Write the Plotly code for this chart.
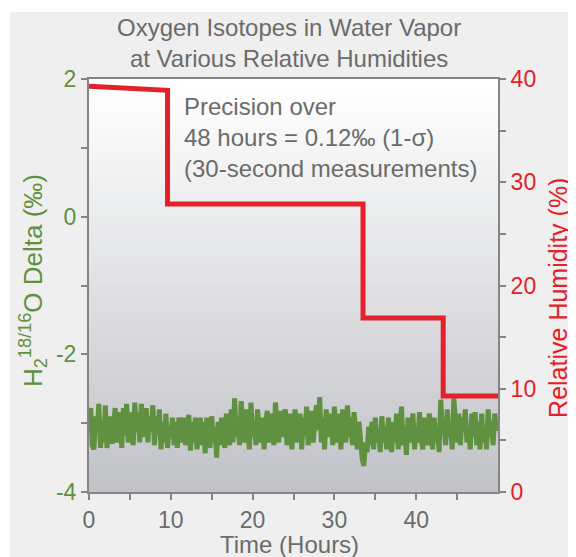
import plotly.graph_objects as go

# ---------------- data ----------------
# Oxygen isotope delta (per mil), 30-second measurements shown as samples every 0.2 h
delta_start_hour = 0.0
delta_step_hour = 0.2
delta_values = [
    -3.05, -2.78, -3.32, -3.38, -2.9, -3.12, -2.72, -3.36, -2.98, -3.28,
    -2.74, -3.36, -3.05, -2.9, -3.3, -2.98, -2.78, -3.28, -3.1, -2.84,
    -3.36, -2.78, -3.18, -2.72, -3.28, -2.98, -2.84, -3.32, -2.7, -3.12,
    -2.84, -3.28, -2.72, -3.05, -3.2, -2.78, -3.28, -2.9, -3.12, -2.74,
    -3.32, -2.9, -3.18, -2.8, -3.38, -2.98, -3.28, -2.86, -3.36, -3.05,
    -3.2, -2.92, -3.32, -2.98, -3.36, -2.92, -3.12, -3.28, -2.92, -3.32,
    -3.05, -2.88, -3.4, -2.98, -3.28, -2.92, -3.38, -3.05, -2.92, -3.32,
    -2.98, -3.44, -2.92, -3.18, -3.36, -2.9, -3.28, -3.05, -3.5, -2.98,
    -3.32, -2.92, -3.18, -3.36, -2.86, -3.1, -3.32, -2.8, -3.28, -2.64,
    -3.2, -2.98, -3.32, -2.68, -3.1, -3.28, -2.8, -3.05, -3.38, -2.7,
    -3.2, -2.98, -3.32, -2.8, -3.1, -3.28, -2.92, -3.38, -2.98, -2.82,
    -3.28, -3.05, -2.86, -3.32, -2.7, -3.1, -3.28, -2.82, -3.2, -2.98,
    -2.8, -3.32, -3.05, -2.86, -3.38, -2.98, -2.8, -3.28, -3.1, -2.86,
    -3.38, -2.92, -3.18, -2.76, -3.32, -2.98, -2.82, -3.28, -3.05, -2.74,
    -3.1, -2.62, -3.28, -2.92, -3.38, -2.8, -3.2, -3.05, -2.86, -3.32,
    -2.76, -3.1, -3.28, -2.86, -3.38, -2.8, -3.05, -3.28, -2.74, -3.2,
    -2.92, -3.32, -2.84, -3.1, -3.38, -2.98, -3.28, -3.52, -3.62, -3.28,
    -3.42, -3.05, -3.32, -2.98, -3.38, -2.92, -3.28, -3.1, -3.42, -2.9,
    -3.28, -3.05, -3.38, -2.92, -3.2, -3.42, -2.98, -3.28, -2.86, -3.38,
    -3.1, -2.76, -3.32, -3.05, -3.46, -2.92, -3.28, -3.1, -2.86, -3.38,
    -3.05, -3.28, -2.84, -3.2, -3.38, -2.92, -3.1, -3.32, -2.86, -3.2,
    -3.38, -2.92, -3.28, -3.05, -3.42, -2.66, -3.1, -2.98, -3.32, -2.8,
    -3.2, -2.98, -3.38, -2.64, -3.05, -3.28, -2.86, -3.32, -2.92, -3.1,
    -2.8, -3.28, -3.05, -3.38, -2.86, -3.2, -2.84, -3.32, -2.98, -3.38,
    -2.86, -3.28, -3.05, -3.38, -2.8, -3.2, -2.98, -3.32, -2.86, -3.1,
    -3.05,
]

# Relative humidity steps
rh_hours = [0, 9.6, 9.6, 33.5, 33.5, 43.3, 43.3, 50]
rh_values = [39.3, 38.9, 27.9, 27.9, 16.85, 16.85, 9.3, 9.3]

x_tick_vals = [0, 10, 20, 30, 40]
x_tick_text = ["0", "10", "20", "30", "40"]
y_tick_vals = [2, 0, -2, -4]
y_tick_text = ["2", "0", "-2", "-4"]
y2_tick_vals = [0, 10, 20, 30, 40]
y2_tick_text = ["0", "10", "20", "30", "40"]

# ---------------- style ----------------
FONT = "Liberation Sans, Arial, Helvetica, sans-serif"
GREEN = "#5f9140"
RED = "#e3212b"
GREY_TXT = "#6b6b6b"
AXIS = "#858585"

fig = go.Figure()

fig.add_trace(go.Scatter(
    x0=delta_start_hour, dx=delta_step_hour, y=delta_values,
    mode="lines", line=dict(color=GREEN, width=5),
    yaxis="y", showlegend=False, hoverinfo="skip",
))
fig.add_trace(go.Scatter(
    x=rh_hours, y=rh_values, mode="lines",
    line=dict(color=RED, width=5), yaxis="y2", showlegend=False,
    hoverinfo="skip",
))

# gradient background in plot area
shapes = []
n = 60
top = (255, 255, 255)
bot = (194, 195, 200)
for i in range(n):
    t = i / (n - 1)
    c = tuple(round(top[k] * t + bot[k] * (1 - t)) for k in range(3))
    shapes.append(dict(
        type="rect", xref="paper", yref="paper",
        x0=0, x1=1, y0=i / n, y1=(i + 1) / n + 0.002,
        fillcolor="rgb(%d,%d,%d)" % c, line=dict(width=0), layer="below",
    ))
# white strips at the top and left of the page
shapes.append(dict(type="rect", xref="paper", yref="paper",
                   x0=-0.3, x1=1.3, y0=1.1622, y1=1.25,
                   fillcolor="white", line=dict(width=0), layer="below"))
shapes.append(dict(type="rect", xref="paper", yref="paper",
                   x0=-0.3, x1=-0.1932, y0=-0.2, y1=1.25,
                   fillcolor="white", line=dict(width=0), layer="below"))

common_axis = dict(
    showgrid=False, zeroline=False, showline=True, linecolor=AXIS,
    linewidth=2, ticks="outside", ticklen=6, tickwidth=2, tickcolor=AXIS,
)

fig.update_layout(
    width=576, height=557,
    margin=dict(l=81, r=86, t=71, b=73),
    paper_bgcolor="#efefef",
    plot_bgcolor="white",
    font=dict(family=FONT, size=23, color=GREY_TXT),
    shapes=shapes,
    xaxis=dict(
        **common_axis, range=[0, 50], mirror=True,
        tickvals=x_tick_vals, ticktext=x_tick_text,
        tickfont=dict(size=23, color=GREY_TXT),
        minor=dict(tickvals=[5, 15, 25, 35, 45], ticks="outside",
                   ticklen=6, tickwidth=2, tickcolor=AXIS),
    ),
    yaxis=dict(
        **common_axis, range=[-4, 2],
        tickvals=y_tick_vals, ticktext=y_tick_text,
        tickfont=dict(size=23, color=GREEN),
        minor=dict(tickvals=[1, -1, -3], ticks="outside",
                   ticklen=6, tickwidth=2, tickcolor=AXIS),
    ),
    yaxis2=dict(
        **common_axis, range=[0, 40], overlaying="y", side="right",
        tickvals=y2_tick_vals, ticktext=y2_tick_text,
        tickfont=dict(size=23, color=RED),
        minor=dict(tickvals=[5, 15, 25, 35], ticks="outside",
                   ticklen=6, tickwidth=2, tickcolor=AXIS),
    ),
    annotations=[
        dict(text="Oxygen Isotopes in Water Vapor<br>at Various Relative Humidities",
             xref="paper", yref="paper", x=0.489, y=1.087,
             xanchor="center", yanchor="middle", showarrow=False,
             font=dict(size=24, color=GREY_TXT, family=FONT)),
        dict(text="Time (Hours)", xref="paper", yref="paper",
             x=0.489, y=-0.128, xanchor="center", yanchor="middle",
             showarrow=False, font=dict(size=24, color=GREY_TXT, family=FONT)),
        dict(text="H<sub>2</sub><sup>18/16</sup>O Delta (‰)",
             xref="paper", yref="paper", x=-0.137, y=0.513,
             xanchor="center", yanchor="middle", textangle=-90,
             showarrow=False, font=dict(size=26, color=GREEN, family=FONT)),
        dict(text="Relative Humidity (%)",
             xref="paper", yref="paper", x=1.1467, y=0.47,
             xanchor="center", yanchor="middle", textangle=-90,
             showarrow=False, font=dict(size=25, color=RED, family=FONT)),
        dict(text="Precision over<br>48 hours = 0.12‰ (1-σ)<br>(30-second measurements)",
             xref="paper", yref="paper", x=0.2274, y=0.972,
             xanchor="left", yanchor="top", align="left",
             showarrow=False, font=dict(size=24, color=GREY_TXT, family=FONT)),
    ],
)

fig.write_html("out.html")
